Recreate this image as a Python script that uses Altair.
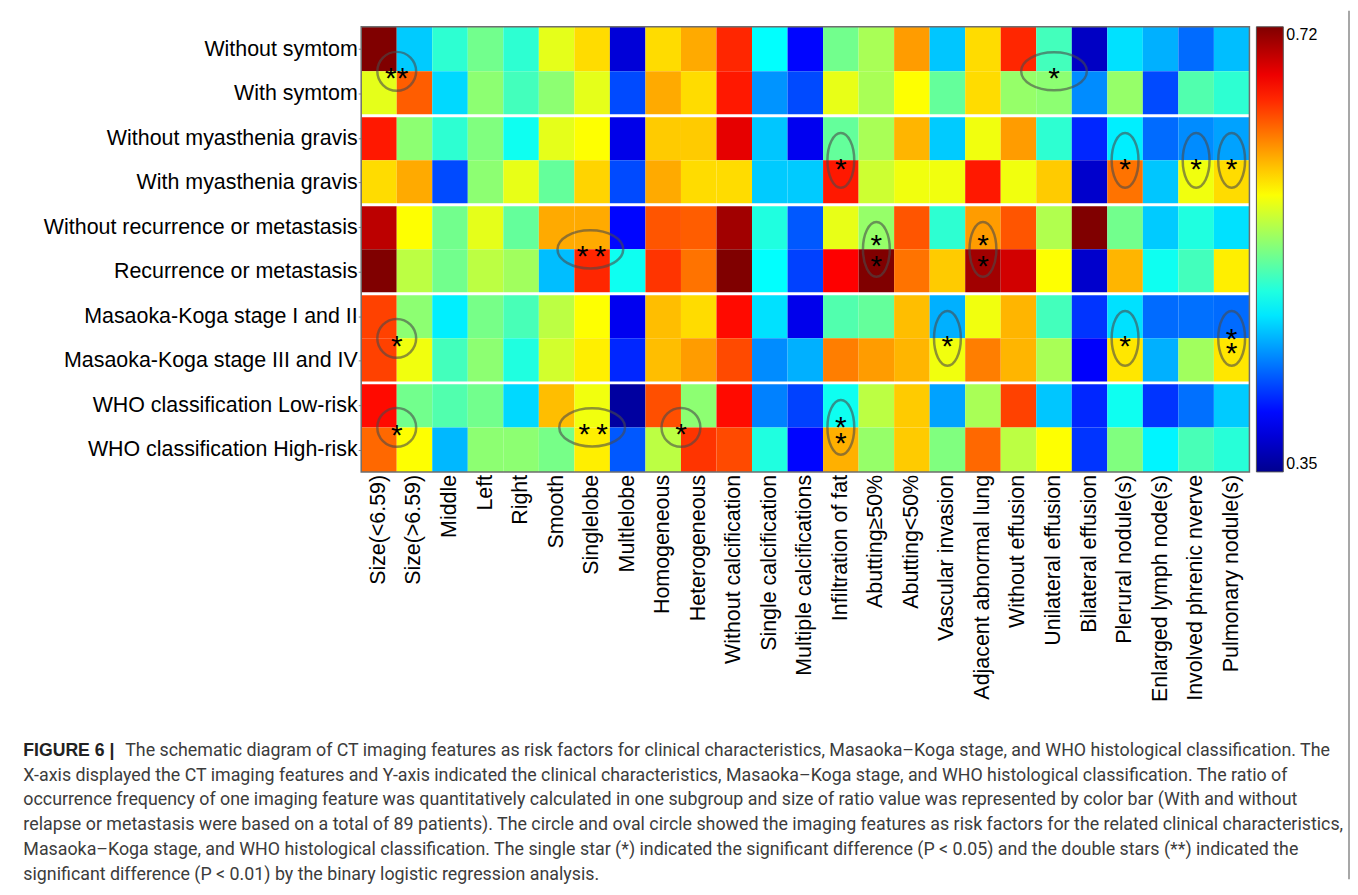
import json
import altair as alt
import pandas as pd

row_labels = ["Without symtom", "With symtom", "Without myasthenia gravis", "With myasthenia gravis",
              "Without recurrence or metastasis", "Recurrence or metastasis",
              "Masaoka-Koga stage I and II", "Masaoka-Koga stage III and IV",
              "WHO classification Low-risk", "WHO classification High-risk"]
col_labels = ["Size(<6.59)", "Size(>6.59)", "Middle", "Left", "Right", "Smooth", "Singlelobe", "Multlelobe",
              "Homogeneous", "Heterogeneous", "Without calcification", "Single calcification",
              "Multiple calcifications", "Infiltration of fat", "Abutting≥50%", "Abutting<50%",
              "Vascular invasion", "Adjacent abnormal lung", "Without effusion", "Unilateral effusion",
              "Bilateral effusion", "Plerural nodule(s)", "Enlarged lymph node(s)", "Involved phrenic nverve",
              "Pulmonary nodule(s)"]

without_symptom = [0.720, 0.470, 0.505, 0.530, 0.505, 0.572, 0.594, 0.380, 0.594, 0.612, 0.660, 0.489, 0.398,
                   0.530, 0.550, 0.617, 0.468, 0.594, 0.660, 0.513, 0.372, 0.478, 0.460, 0.435, 0.465]
with_symptom = [0.572, 0.640, 0.475, 0.540, 0.513, 0.540, 0.572, 0.423, 0.612, 0.594, 0.665, 0.450, 0.423,
                0.573, 0.550, 0.581, 0.525, 0.594, 0.543, 0.540, 0.447, 0.543, 0.423, 0.518, 0.505]
without_mg = [0.665, 0.540, 0.505, 0.535, 0.494, 0.572, 0.581, 0.387, 0.600, 0.600, 0.683, 0.468, 0.390,
              0.525, 0.550, 0.608, 0.470, 0.576, 0.617, 0.505, 0.410, 0.483, 0.435, 0.447, 0.455]
with_mg = [0.594, 0.612, 0.423, 0.540, 0.573, 0.525, 0.597, 0.423, 0.612, 0.594, 0.594, 0.470, 0.470,
           0.665, 0.563, 0.576, 0.576, 0.665, 0.576, 0.600, 0.375, 0.632, 0.468, 0.576, 0.594]
without_recurrence = [0.698, 0.581, 0.530, 0.572, 0.525, 0.612, 0.612, 0.398, 0.643, 0.640, 0.708, 0.500, 0.428,
                      0.573, 0.543, 0.643, 0.505, 0.617, 0.643, 0.553, 0.720, 0.530, 0.470, 0.500, 0.478]
recurrence = [0.720, 0.557, 0.530, 0.557, 0.547, 0.465, 0.660, 0.494, 0.655, 0.632, 0.720, 0.489, 0.420,
              0.674, 0.720, 0.632, 0.600, 0.708, 0.690, 0.581, 0.375, 0.608, 0.494, 0.513, 0.587]
mk_1_2 = [0.650, 0.540, 0.483, 0.532, 0.515, 0.557, 0.581, 0.390, 0.605, 0.594, 0.670, 0.478, 0.388,
          0.518, 0.525, 0.605, 0.460, 0.576, 0.608, 0.513, 0.415, 0.478, 0.435, 0.437, 0.435]
mk_3_4 = [0.650, 0.576, 0.513, 0.540, 0.500, 0.565, 0.587, 0.410, 0.605, 0.617, 0.647, 0.447, 0.460,
          0.628, 0.617, 0.608, 0.576, 0.628, 0.608, 0.550, 0.395, 0.590, 0.460, 0.547, 0.590]
who_low = [0.670, 0.530, 0.518, 0.530, 0.475, 0.605, 0.576, 0.357, 0.645, 0.540, 0.670, 0.443, 0.420,
           0.494, 0.557, 0.600, 0.455, 0.550, 0.650, 0.468, 0.410, 0.494, 0.415, 0.437, 0.470]
who_high = [0.636, 0.581, 0.463, 0.540, 0.540, 0.532, 0.587, 0.428, 0.557, 0.655, 0.647, 0.500, 0.398,
            0.610, 0.543, 0.600, 0.535, 0.636, 0.557, 0.581, 0.415, 0.535, 0.485, 0.515, 0.503]

row_values = [without_symptom, with_symptom, without_mg, with_mg, without_recurrence, recurrence,
              mk_1_2, mk_3_4, who_low, who_high]

# annotations (column units, row units; boundaries are integers)
circle_marks = [(1.0, 1.0), (1.0, 7.0), (1.0, 9.0), (9.0, 9.0)]
wide_marks = [(19.5, 1.0), (6.45, 5.0), (6.5, 9.0)]
tall_marks = [(13.5, 3.0), (21.5, 3.0), (23.5, 3.0), (24.5, 3.0), (14.5, 5.0), (17.5, 5.0),
              (16.5, 7.0), (21.5, 7.0), (24.5, 7.0), (13.5, 9.0)]
# single-line star labels: (x, y, text)
star_marks = [(1.0, 1.0, "**"), (19.5, 1.0, "*"),
              (13.5, 3.05, "*"), (21.5, 3.05, "*"), (23.5, 3.05, "*"), (24.5, 3.05, "*"),
              (6.23, 5.0, "*"), (6.73, 5.0, "*"),
              (1.0, 7.02, "*"), (16.5, 7.02, "*"), (21.5, 7.02, "*"),
              (1.0, 9.01, "*"), (6.28, 9.0, "*"), (6.78, 9.0, "*"), (9.0, 9.0, "*")]
# vertically stacked double stars: (x, y centre, spacing in px)
stacked_marks = [(14.5, 4.99, 21), (17.5, 4.99, 21), (24.5, 7.02, 14), (13.5, 9.02, 16)]
separator_rows = [2, 4, 6, 8]

caption_bold = "FIGURE 6 |"
caption_lines = [
    "The schematic diagram of CT imaging features as risk factors for clinical characteristics, Masaoka–Koga stage, and WHO histological classification. The",
    "X-axis displayed the CT imaging features and Y-axis indicated the clinical characteristics, Masaoka–Koga stage, and WHO histological classification. The ratio of",
    "occurrence frequency of one imaging feature was quantitatively calculated in one subgroup and size of ratio value was represented by color bar (With and without",
    "relapse or metastasis were based on a total of 89 patients). The circle and oval circle showed the imaging features as risk factors for the related clinical characteristics,",
    "Masaoka–Koga stage, and WHO histological classification. The single star (*) indicated the significant difference (P < 0.05) and the double stars (**) indicated the",
    "significant difference (P < 0.01) by the binary logistic regression analysis.",
]

# ---------------------------------------------------------------
W, H = 892, 447
FONT = "Liberation Sans"

cells = []
for r, vals in enumerate(row_values):
    for c, v in enumerate(vals):
        cells.append({"c": c, "c2": c + 1, "r": r, "r2": r + 1, "value": v,
                      "row": row_labels[r], "col": col_labels[c]})
df = pd.DataFrame(cells)

lo, hi = 0.35, 0.72
span = hi - lo
jet_domain = [lo, lo + span / 8, lo + 3 * span / 8, lo + 5 * span / 8, lo + 7 * span / 8, hi]
jet_range = ["#00008f", "#0000ff", "#00ffff", "#ffff00", "#ff0000", "#800000"]
cscale = alt.Scale(domain=jet_domain, range=jet_range, interpolate="rgb")

xs = alt.Scale(domain=[0, 25], nice=False, zero=False)
ys = alt.Scale(domain=[0, 10], nice=False, zero=False, reverse=True)

y_expr = json.dumps(row_labels, ensure_ascii=False) + "[floor(datum.value)]"

heat = alt.Chart(df).mark_rect().encode(
    x=alt.X("c:Q", scale=xs, title=None, axis=None),
    x2="c2:Q",
    y=alt.Y("r:Q", scale=ys, title=None,
            axis=alt.Axis(values=[i + 0.5 for i in range(10)], labelExpr=y_expr, labelOverlap=False,
                          ticks=True, tickSize=3, tickColor="#888", domain=False, grid=False,
                          labelPadding=1, labelFont=FONT, labelFontSize=21.5, labelColor="black",
                          labelLimit=400)),
    y2="r2:Q",
    color=alt.Color("value:Q", scale=cscale,
                    legend=alt.Legend(type="gradient", title=None, values=[0.35, 0.72], format=".2f",
                                      orient="right", offset=7, padding=0, gradientLength=H,
                                      gradientThickness=27, gradientStrokeColor="#555",
                                      gradientStrokeWidth=1, labelFont=FONT, labelFontSize=16,
                                      labelColor="black", labelOffset=3, direction="vertical")),
)

xlabels = alt.Chart(pd.DataFrame({"x": [i + 0.5 for i in range(len(col_labels))], "t": col_labels})).mark_text(
    angle=270, align="right", baseline="middle", font=FONT, fontSize=21.5, color="black").encode(
    x=alt.X("x:Q", scale=xs), y=alt.value(H + 3), text="t:N")

seps = alt.Chart(pd.DataFrame({"y": separator_rows})).mark_rule(color="white", strokeWidth=3).encode(
    y=alt.Y("y:Q", scale=ys), x=alt.value(0), x2=alt.value(W))

frame = alt.Chart(pd.DataFrame({"a": [0]})).mark_rect(fill=None, stroke="#6e6e6e", strokeWidth=1.5).encode(
    x=alt.value(0), x2=alt.value(W), y=alt.value(0), y2=alt.value(H))

CIRCLE = "M -1 0 A 1 1 0 1 0 1 0 A 1 1 0 1 0 -1 0"
WIDE = "M -1 0 A 1 0.58 0 1 0 1 0 A 1 0.58 0 1 0 -1 0"
TALL = "M -0.49 0 A 0.49 1 0 1 0 0.49 0 A 0.49 1 0 1 0 -0.49 0"


def ring_layer(pts, shape, size):
    d = pd.DataFrame(pts, columns=["x", "y"])
    return alt.Chart(d).mark_point(shape=shape, size=size, filled=False, color="#4a4a4a",
                                   strokeWidth=2.5, strokeOpacity=0.85).encode(
        x=alt.X("x:Q", scale=xs), y=alt.Y("y:Q", scale=ys))


rings = ring_layer(circle_marks, CIRCLE, 1521) + ring_layer(wide_marks, WIDE, 4356) + ring_layer(tall_marks, TALL, 3025)

STAR_SIZE = 30
STAR_DY = 17  # puts the asterisk's ink centre on the anchor
stars = alt.Chart(pd.DataFrame(star_marks, columns=["x", "y", "t"])).mark_text(
    font=FONT, fontSize=STAR_SIZE, baseline="alphabetic", align="center", dy=STAR_DY, color="black").encode(
    x=alt.X("x:Q", scale=xs), y=alt.Y("y:Q", scale=ys), text="t:N")

stacked_layers = []
for sx, sy, sp in stacked_marks:
    stacked_layers.append(alt.Chart(pd.DataFrame({"x": [sx], "y": [sy]})).mark_text(
        text=["*", "*"], lineHeight=sp, font=FONT, fontSize=STAR_SIZE, baseline="alphabetic",
        align="center", dy=STAR_DY - sp / 2, color="black").encode(
        x=alt.X("x:Q", scale=xs), y=alt.Y("y:Q", scale=ys)))

CAP_X = -339.3
CAP_Y0 = 732
CAP_DY = 25
CAP_FONT = "Roboto"
CAP_SIZE = 17.9
cap_layers = [alt.Chart(pd.DataFrame({"t": [caption_bold]})).mark_text(
    font=FONT, fontSize=17.7, fontWeight="bold", align="left", baseline="alphabetic",
    color="#222222").encode(text="t:N", x=alt.value(CAP_X), y=alt.value(CAP_Y0))]
for i, line in enumerate(caption_lines):
    xx = CAP_X + 102.3 if i == 0 else CAP_X
    cap_layers.append(alt.Chart(pd.DataFrame({"t": [line]})).mark_text(
        font=CAP_FONT, fontSize=CAP_SIZE, align="left", baseline="alphabetic",
        color="#3c3c3c").encode(text="t:N", x=alt.value(xx), y=alt.value(CAP_Y0 + i * CAP_DY)))

edge = alt.Chart(pd.DataFrame({"a": [0]})).mark_rule(color="#8a8a8a", strokeWidth=1.5).encode(
    x=alt.value(992), y=alt.value(-16), y2=alt.value(856))

chart = alt.layer(heat, xlabels, seps, frame, rings, stars, *stacked_layers, edge, *cap_layers).properties(
    width=W, height=H, padding={"left": 14.7, "top": 0, "right": 0, "bottom": 0}
).configure_view(stroke=None)

chart.save("out.html", embed_options={"renderer": "svg", "actions": False})
